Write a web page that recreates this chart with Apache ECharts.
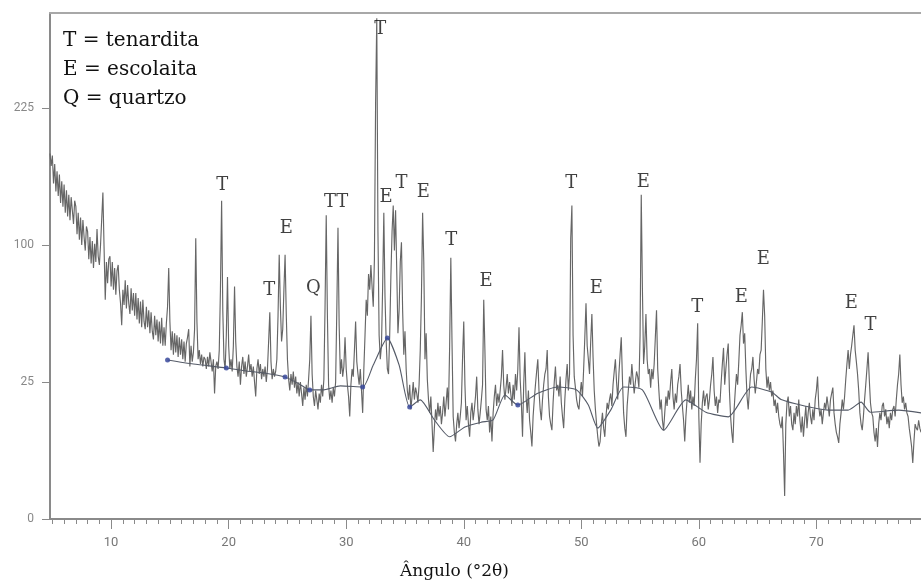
<!DOCTYPE html>
<html>
<head>
<meta charset="utf-8">
<script src="https://cdn.jsdelivr.net/npm/echarts@6/dist/echarts.min.js"></script>
<style>
  html, body { margin: 0; padding: 0; background: #ffffff; }
  #chart { width: 921px; height: 587px; }
</style>
</head>
<body>
<div id="chart"></div>
<script>
// Diffractogram: scan from 4.8 to 78.9 °2θ in 0.1° steps, intensity in counts
const startAngle = 4.8;
const stepAngle = 0.1;
const counts = [
  178, 166,
  176, 150, 168, 143, 161, 139, 158, 133, 152, 130,   // 5
  149, 125, 144, 122, 140, 119, 138, 127, 116, 135,   // 6
  130, 108, 125, 104, 121, 100, 119, 106, 96, 114,    // 7
  110, 90, 106, 87, 103, 84, 101, 88, 112, 92,        // 8
  86, 100, 120, 142, 98, 64, 88, 74, 90, 92,          // 9
  72, 88, 70, 84, 67, 82, 86, 70, 62, 50,             // 10
  70, 61, 76, 59, 73, 62, 56, 71, 58, 68,             // 11
  55, 68, 53, 65, 51, 63, 49, 64, 52, 48,             // 12
  60, 49, 58, 46, 57, 47, 43, 55, 45, 53,             // 13
  42, 52, 41, 54, 40, 49, 40, 51, 60, 84,             // 14
  52, 38, 47, 36, 46, 37, 45, 35, 44, 36,             // 15
  43, 34, 42, 33, 41, 44, 48, 31, 40, 33,             // 16
  37, 48, 105, 52, 34, 38, 32, 36, 31, 35,            // 17
  34, 30, 35, 31, 37, 33, 29, 34, 21, 31,             // 18
  33, 30, 38, 70, 135, 58, 34, 30, 45, 78,            // 19
  40, 30, 34, 29, 40, 72, 42, 31, 27, 33,             // 20
  24, 31, 35, 28, 33, 27, 31, 36, 29, 32,             // 21
  27, 31, 25, 20, 30, 34, 28, 32, 26, 30,             // 22
  27, 31, 25, 30, 42, 57, 33, 26, 30, 27,             // 23
  29, 34, 55, 93, 60, 42, 48, 70, 93, 56,             // 24
  34, 26, 22, 28, 24, 29, 23, 27, 21, 25,             // 25
  20, 25, 21, 17, 23, 19, 24, 20, 26, 34,             // 26
  55, 28, 20, 17, 22, 19, 16, 21, 18, 24,             // 27
  20, 26, 60, 123, 55, 24, 19, 22, 18, 23,            // 28
  20, 25, 58, 113, 50, 28, 34, 27, 31, 44,            // 29
  30, 24, 20, 14, 24, 30, 27, 38, 52, 33,             // 30
  28, 24, 30, 22, 15, 30, 45, 64, 55, 80,             // 31
  70, 86, 72, 60, 90, 230, 334, 110, 45, 34,          // 32
  40, 72, 125, 66, 42, 30, 28, 45, 78, 110,           // 33
  131, 96, 127, 82, 46, 58, 88, 102, 58, 36,          // 34
  47, 30, 22, 19, 24, 16, 20, 25, 19, 23,             // 35
  21, 18, 24, 38, 66, 125, 88, 34, 46, 26,            // 36
  19, 15, 20, 12, 6, 11, 16, 13, 18, 14,              // 37
  17, 12, 15, 20, 14, 18, 23, 16, 40, 91,             // 38
  42, 14, 10, 8, 12, 15, 11, 14, 18, 35,              // 39
  52, 24, 13, 17, 12, 9, 15, 18, 13, 16,              // 40
  20, 27, 16, 12, 15, 19, 24, 64, 38, 16,             // 41
  13, 17, 10, 14, 8, 15, 20, 24, 17, 21,              // 42
  18, 22, 27, 38, 24, 19, 23, 28, 21, 25,             // 43
  21, 17, 24, 19, 28, 22, 30, 49, 26, 18,             // 44
  9, 24, 37, 20, 15, 22, 13, 10, 7, 14,               // 45
  19, 24, 29, 34, 22, 16, 13, 19, 24, 28,             // 46
  30, 38, 20, 14, 12, 10.5, 18, 25, 31, 22,           // 47
  24, 20, 27, 18, 14, 11, 19, 26, 32, 22,             // 48
  28, 105, 131, 45, 27, 23, 19, 17, 16, 21,           // 49
  25, 20, 30, 44, 62, 40, 34, 28, 42, 56,             // 50
  35, 22, 16, 12, 9, 7, 8, 12, 15, 11,                // 51
  9, 14, 18, 16, 19, 21, 17, 24, 29, 34,              // 52
  25, 19, 28, 36, 44, 26, 15, 11, 9, 17,              // 53
  22, 27, 24, 32, 26, 21, 25, 29, 27, 23,             // 54
  45, 140, 70, 32, 40, 56, 34, 28, 30, 23,            // 55
  30, 26, 32, 44, 58, 30, 22, 16, 19, 13,             // 56
  10.5, 15, 20, 17, 22, 19, 25, 30, 20, 16,           // 57
  21, 18, 24, 27, 32, 22, 17, 13, 8, 14,              // 58
  19, 24, 18, 22, 16, 20, 17, 26, 34, 51,             // 59
  14, 4.2, 12, 18, 22, 17, 20, 21, 16, 19,            // 60
  24, 28, 35, 22, 17, 20, 15, 19, 18, 25,             // 61
  32, 39, 24, 30, 36, 41, 22, 14, 10, 7.7,            // 62
  16, 22, 28, 24, 33, 45, 50, 57, 41, 46,             // 63
  30, 20, 16, 22, 28, 30, 35, 26, 21, 25,             // 64
  30, 28, 36, 38, 52, 70, 55, 30, 23, 27,             // 65
  22, 25, 20, 22, 17, 19, 15, 18, 14, 12,             // 66
  11, 14, 6, 0.7, 12, 18, 20, 14, 17, 12,             // 67
  10.5, 15, 12, 17, 14, 19, 13, 10, 14, 9,            // 68
  13, 17, 11, 15, 18, 14, 12, 16, 13, 19,             // 69
  22, 27, 17, 14, 16, 12, 15, 18, 16, 20,             // 70
  17, 14, 19, 21, 23, 15, 12, 10, 9, 7.7,             // 71
  12, 15, 19, 16, 20, 26, 32, 38, 30, 36,             // 72
  40, 45, 50, 38, 33, 28, 22, 15, 12, 10.5,           // 73
  14, 19, 24, 30, 37, 26, 18, 15, 14, 10,             // 74
  8, 11, 6.9, 12, 15, 13, 17, 18, 14, 16,             // 75
  12, 14, 11, 15, 13, 16, 17, 14, 19, 24,             // 76
  28, 36, 24, 18, 20, 16, 18, 15, 14, 11,             // 77
  9, 7, 4.2, 8, 12, 11, 10.5, 13, 11, 10              // 78
];

// Fitted background under the pattern
const bgAngles = [14.8, 17.0, 19.8, 21.5, 23.0, 24.8, 26.0, 26.9, 28.0, 29.5, 31.4, 32.3, 33.5, 34.5,
  35.4, 36.3, 37.5, 38.8, 40.1, 41.5, 42.5, 43.5, 44.6, 46.3, 48.0, 49.6, 50.6, 51.4, 52.5, 53.6,
  55.2, 57.0, 58.9, 60.6, 62.5, 64.5, 66.2, 67.0, 69.0, 71.0, 72.7, 73.8, 74.6, 77.0, 78.9];
const bgCounts = [33.7, 32.0, 30.4, 29.2, 28.4, 26.9, 24.3, 22.2, 22.2, 23.6, 23.2, 31.6, 43.6, 31.6,
  16.7, 18.9, 13.1, 9.0, 11.3, 12.5, 13.1, 20.5, 17.3, 21.1, 23.2, 22.2, 17.3, 11.0, 15.8, 23.2,
  22.2, 10.5, 18.9, 15.2, 13.9, 23.2, 21.5, 19.0, 17.0, 15.8, 15.8, 18.2, 15.2, 15.8, 15.0];
// Background nodes drawn as dots
const anchorAngles = [14.8, 19.8, 24.8, 26.9, 31.4, 33.5, 35.4, 44.6];

// Phase identification letters and the level where each sits
const phaseLetters = ['T', 'T', 'E', 'Q', 'T', 'T', 'T', 'E', 'T', 'E', 'T', 'E', 'T', 'E', 'E', 'T', 'E', 'E', 'E', 'T'];
const phaseAngles  = [19.45, 23.45, 24.9, 27.2, 28.62, 29.66, 32.9, 33.4, 34.7, 36.55, 38.94, 41.9, 49.15, 51.28, 55.28, 59.87, 63.62, 65.49, 72.98, 74.6];
const phaseLevels  = [148.6, 69.9, 112.8, 71.1, 133.8, 133.8, 319.8, 138.1, 150.4, 142.4, 103.7, 75.4, 150.4, 71.1, 151.3, 59.9, 65.6, 90.0, 62.1, 50.1];

const legendLines = ['T = tenardita', 'E = escolaita', 'Q = quartzo'];
const xTickLabels = [10, 20, 30, 40, 50, 60, 70];
const yTickLabels = [0, 25, 100, 225];
const axisTitle = 'Ângulo (°2θ)';

const xMin = 4.8, xMax = 78.9, yMaxSqrt = 18.47;

// square-root intensity scale
const toY = c => Math.sqrt(c);

const traceData = counts.map((c, i) => [+(startAngle + i * stepAngle).toFixed(2), toY(c)]);
const bgData = bgAngles.map((a, i) => [a, toY(bgCounts[i])]);
const anchorData = anchorAngles.map(a => [a, toY(bgCounts[bgAngles.indexOf(a)])]);
const phaseData = phaseAngles.map((a, i) => [a, toY(phaseLevels[i]), phaseLetters[i]]);

const minorTicks = [];
for (let d = Math.ceil(xMin); d <= Math.floor(xMax); d++) {
  if (d % 10 !== 0) minorTicks.push(d);
}

const serif = '"DejaVu Serif", "Liberation Serif", serif';
const axisGrey = '#8a8a8a';

const chart = echarts.init(document.getElementById('chart'), null, { renderer: 'canvas' });
chart.setOption({
  animation: false,
  backgroundColor: '#ffffff',
  grid: { left: 50, right: 0, top: 13, bottom: 68 },
  xAxis: [
    {
      type: 'value', min: xMin, max: xMax, position: 'bottom',
      axisLine: { show: true, lineStyle: { color: axisGrey, width: 2 } },
      axisTick: { show: true, length: 10, customValues: xTickLabels, lineStyle: { color: axisGrey, width: 1 } },
      axisLabel: {
        show: true, customValues: xTickLabels, margin: 17,
        color: '#777', fontSize: 13, fontFamily: 'Roboto, "DejaVu Sans", sans-serif'
      },
      splitLine: { show: false }
    },
    {
      type: 'value', min: xMin, max: xMax, position: 'bottom',
      axisLine: { show: false },
      axisTick: { show: true, length: 5, customValues: minorTicks, lineStyle: { color: axisGrey, width: 1 } },
      axisLabel: { show: false },
      splitLine: { show: false }
    },
    {
      type: 'value', min: xMin, max: xMax, position: 'top',
      axisLine: { show: true, lineStyle: { color: '#a8a8a8', width: 2 } },
      axisTick: { show: false },
      axisLabel: { show: false },
      splitLine: { show: false }
    }
  ],
  yAxis: {
    type: 'value', min: 0, max: yMaxSqrt,
    axisLine: { show: true, lineStyle: { color: axisGrey, width: 2 } },
    axisTick: { show: true, length: 8, customValues: yTickLabels.map(toY), lineStyle: { color: axisGrey, width: 1 } },
    axisLabel: {
      show: true, customValues: yTickLabels.map(toY), margin: 16,
      color: '#888', fontSize: 12, fontFamily: 'Roboto, "DejaVu Sans", sans-serif',
      formatter: v => String(Math.round(v * v))
    },
    splitLine: { show: false }
  },
  series: [
    {
      name: 'difratograma', type: 'line', xAxisIndex: 0, data: traceData,
      showSymbol: false, symbol: 'none', sampling: null,
      lineStyle: { color: '#666666', width: 1.15 }, z: 2
    },
    {
      name: 'fundo', type: 'line', xAxisIndex: 0, data: bgData,
      showSymbol: false, symbol: 'none', smooth: 0.2,
      lineStyle: { color: '#555b68', width: 1.1 }, z: 3
    },
    {
      name: 'nós', type: 'scatter', xAxisIndex: 0, data: anchorData,
      symbolSize: 5, itemStyle: { color: '#3a4a9c', opacity: 0.85 }, z: 4
    },
    {
      name: 'fases', type: 'scatter', xAxisIndex: 0, data: phaseData,
      symbolSize: 0, z: 5,
      label: {
        show: true, position: 'inside', formatter: p => p.data[2],
        color: '#111', fontSize: 18, fontFamily: serif
      }
    }
  ],
  graphic: [
    ...legendLines.map((t, i) => ({
      type: 'text', left: 63, top: 31 + i * 29,
      style: { text: t, font: '20px ' + serif, fill: '#111' }, z: 10
    })),
    {
      type: 'text', left: 400, top: 563,
      style: { text: axisTitle, font: '17px ' + serif, fill: '#111' }, z: 10
    }
  ]
});
</script>
</body>
</html>
